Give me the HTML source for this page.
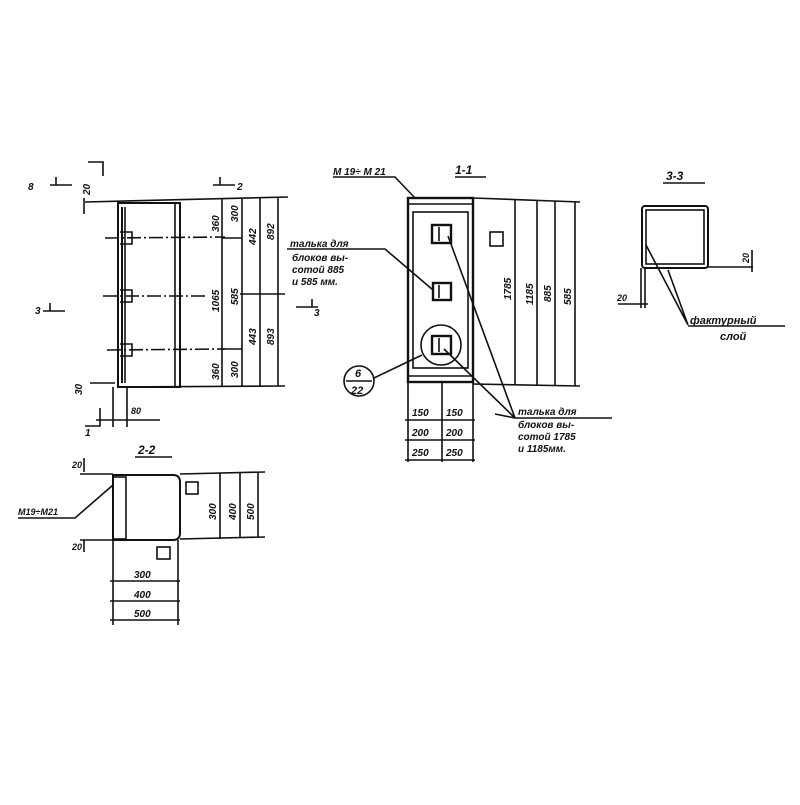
<!DOCTYPE html>
<html><head><meta charset="utf-8"><style>
html,body{margin:0;padding:0;background:#fff}
svg text{font-family:"Liberation Sans",sans-serif;font-style:italic;font-weight:bold;fill:#111}
</style></head><body>
<svg width="800" height="800" viewBox="0 0 800 800" xmlns="http://www.w3.org/2000/svg">
<g stroke="#111" stroke-width="1.6" fill="none">
<!-- LEFT VIEW -->
<line x1="85" y1="202" x2="288" y2="197"/>
<line x1="118" y1="387" x2="285" y2="386"/>
<rect x="118" y="203" width="62" height="184" stroke-width="2"/>
<line x1="175" y1="203" x2="175" y2="387"/>
<line x1="122" y1="207" x2="122" y2="383" stroke-width="2"/>
<line x1="125" y1="207" x2="125" y2="383"/>
<g stroke-dasharray="14,3,2,3">
<line x1="105" y1="238" x2="225" y2="237"/>
<line x1="103" y1="296" x2="205" y2="296"/>
<line x1="107" y1="350" x2="225" y2="349"/>
</g>
<path d="M120 232h12v12h-12M120 290h12v12h-12M120 344h12v12h-12"/>
<line x1="222" y1="199" x2="222" y2="387"/>
<line x1="242" y1="199" x2="242" y2="387"/>
<line x1="260" y1="198" x2="260" y2="387"/>
<line x1="278" y1="197" x2="278" y2="386"/>
<line x1="222" y1="238" x2="242" y2="238"/>
<line x1="222" y1="349" x2="242" y2="349"/>
<line x1="240" y1="294" x2="285" y2="294"/>
<!-- section marks -->
<path d="M50 185h22M56 185v-8M235 185h-22M220 185v-8M43 311h22M50 311v-8M103 176v-14h-15M100 408v18h-15M318 307h-22M312 307v-8"/>
<path d="M84 198v16M113 387v40M127 387v40M96 420h64M90 383h25"/>
<!-- 1-1 -->
<rect x="408" y="198" width="65" height="184" stroke-width="2.4"/>
<rect x="413" y="212" width="55" height="156"/>
<path d="M408 204h65M408 376h65"/>
<rect x="432" y="225" width="19" height="18" stroke-width="2.4"/>
<rect x="433" y="283" width="18" height="17" stroke-width="2.4"/>
<rect x="432" y="336" width="19" height="18" stroke-width="2.4"/>
<path d="M439 227v14M439 285v13M439 338v14"/>
<circle cx="441" cy="345" r="20"/>
<circle cx="359" cy="381" r="15"/>
<line x1="346" y1="381" x2="372" y2="381"/>
<line x1="374" y1="378" x2="422" y2="355"/>
<path d="M333 177h62l20 21"/>
<path d="M287 249h98l48 41"/>
<path d="M612 418h-97l-67-182M515 418l-71-69M515 418l-20-4"/>
<line x1="473" y1="198" x2="580" y2="202"/>
<line x1="473" y1="384" x2="580" y2="386"/>
<line x1="515" y1="199" x2="515" y2="385"/>
<line x1="537" y1="200" x2="537" y2="385"/>
<line x1="555" y1="201" x2="555" y2="386"/>
<line x1="575" y1="202" x2="575" y2="386"/>
<rect x="490" y="232" width="13" height="14"/>
<path d="M408 382v80M442 382v80M473 382v80M405 420h70M405 440h70M405 460h70"/>
<line x1="455" y1="177" x2="486" y2="177"/>
<!-- 2-2 -->
<line x1="135" y1="457" x2="172" y2="457"/>
<path d="M80 474h33M180 474l85-2M80 540h33M180 539l85-2"/>
<path d="M113 475h60q7 0 7 7v51q0 7-7 7h-60z" stroke-width="2"/>
<rect x="113" y="477" width="13" height="62"/>
<line x1="220" y1="473" x2="220" y2="539"/>
<line x1="240" y1="473" x2="240" y2="538"/>
<line x1="258" y1="472" x2="258" y2="538"/>
<rect x="186" y="482" width="12" height="12"/>
<rect x="157" y="547" width="13" height="12"/>
<path d="M113 540v85M178 540v85M110 581h70M110 601h70M110 620h70"/>
<path d="M18 518h57l38-33"/>
<path d="M84 458v14M84 540v12"/>
<!-- 3-3 -->
<line x1="663" y1="183" x2="705" y2="183"/>
<rect x="642" y="206" width="66" height="62" rx="3" stroke-width="2"/>
<rect x="646" y="210" width="58" height="54"/>
<path d="M708 267h45M752 250v22M641 268v40M645 268v40M618 304h30"/>
<path d="M646 245l42 80M668 270l20 55M688 326h97"/>
</g>
<g font-size="10">
<text x="28" y="190">8</text>
<text x="237" y="190">2</text>
<text x="35" y="314">3</text>
<text x="85" y="436">1</text>
<text x="314" y="316">3</text>
<text transform="translate(90,195) rotate(-90)">20</text>
<text transform="translate(82,395) rotate(-90)">30</text>
<text x="131" y="414" font-size="9">80</text>
<g font-size="10">
<text transform="translate(219,232) rotate(-90)">360</text>
<text transform="translate(238,222) rotate(-90)">300</text>
<text transform="translate(256,245) rotate(-90)">442</text>
<text transform="translate(274,240) rotate(-90)">892</text>
<text transform="translate(219,312) rotate(-90)">1065</text>
<text transform="translate(238,305) rotate(-90)">585</text>
<text transform="translate(256,345) rotate(-90)">443</text>
<text transform="translate(274,345) rotate(-90)">893</text>
<text transform="translate(219,380) rotate(-90)">360</text>
<text transform="translate(238,378) rotate(-90)">300</text>
<text transform="translate(511,300) rotate(-90)">1785</text>
<text transform="translate(533,305) rotate(-90)">1185</text>
<text transform="translate(551,302) rotate(-90)">885</text>
<text transform="translate(571,305) rotate(-90)">585</text>
<text transform="translate(216,520) rotate(-90)">300</text>
<text transform="translate(236,520) rotate(-90)">400</text>
<text transform="translate(254,520) rotate(-90)">500</text>
</g>
<text x="333" y="175">М 19÷ М 21</text>
<text x="455" y="174" font-size="12">1-1</text>
<text x="290" y="247">талька для</text>
<text x="292" y="261">блоков вы-</text>
<text x="292" y="273">сотой 885</text>
<text x="292" y="285">и 585 мм.</text>
<text x="355" y="377" font-size="11">6</text>
<text x="351" y="394" font-size="11">22</text>
<text x="412" y="416">150</text><text x="446" y="416">150</text>
<text x="412" y="436">200</text><text x="446" y="436">200</text>
<text x="412" y="456">250</text><text x="446" y="456">250</text>
<text x="518" y="415">талька для</text>
<text x="518" y="428" font-weight="normal">блоков вы-</text>
<text x="518" y="440" font-weight="normal">сотой 1785</text>
<text x="518" y="452" font-weight="normal">и 1185мм.</text>
<text x="138" y="454" font-size="12">2-2</text>
<text x="18" y="515" font-size="9">М19÷М21</text>
<text x="72" y="468" font-size="9">20</text>
<text x="72" y="550" font-size="9">20</text>
<text x="134" y="578">300</text>
<text x="134" y="598">400</text>
<text x="134" y="617">500</text>
<text x="666" y="180" font-size="12">3-3</text>
<text transform="translate(749,263) rotate(-90)" font-size="9">20</text>
<text x="617" y="301" font-size="9">20</text>
<text x="690" y="324" font-size="11">фактурный</text>
<text x="720" y="340" font-size="11">слой</text>
</g>
</svg>
</body></html>
